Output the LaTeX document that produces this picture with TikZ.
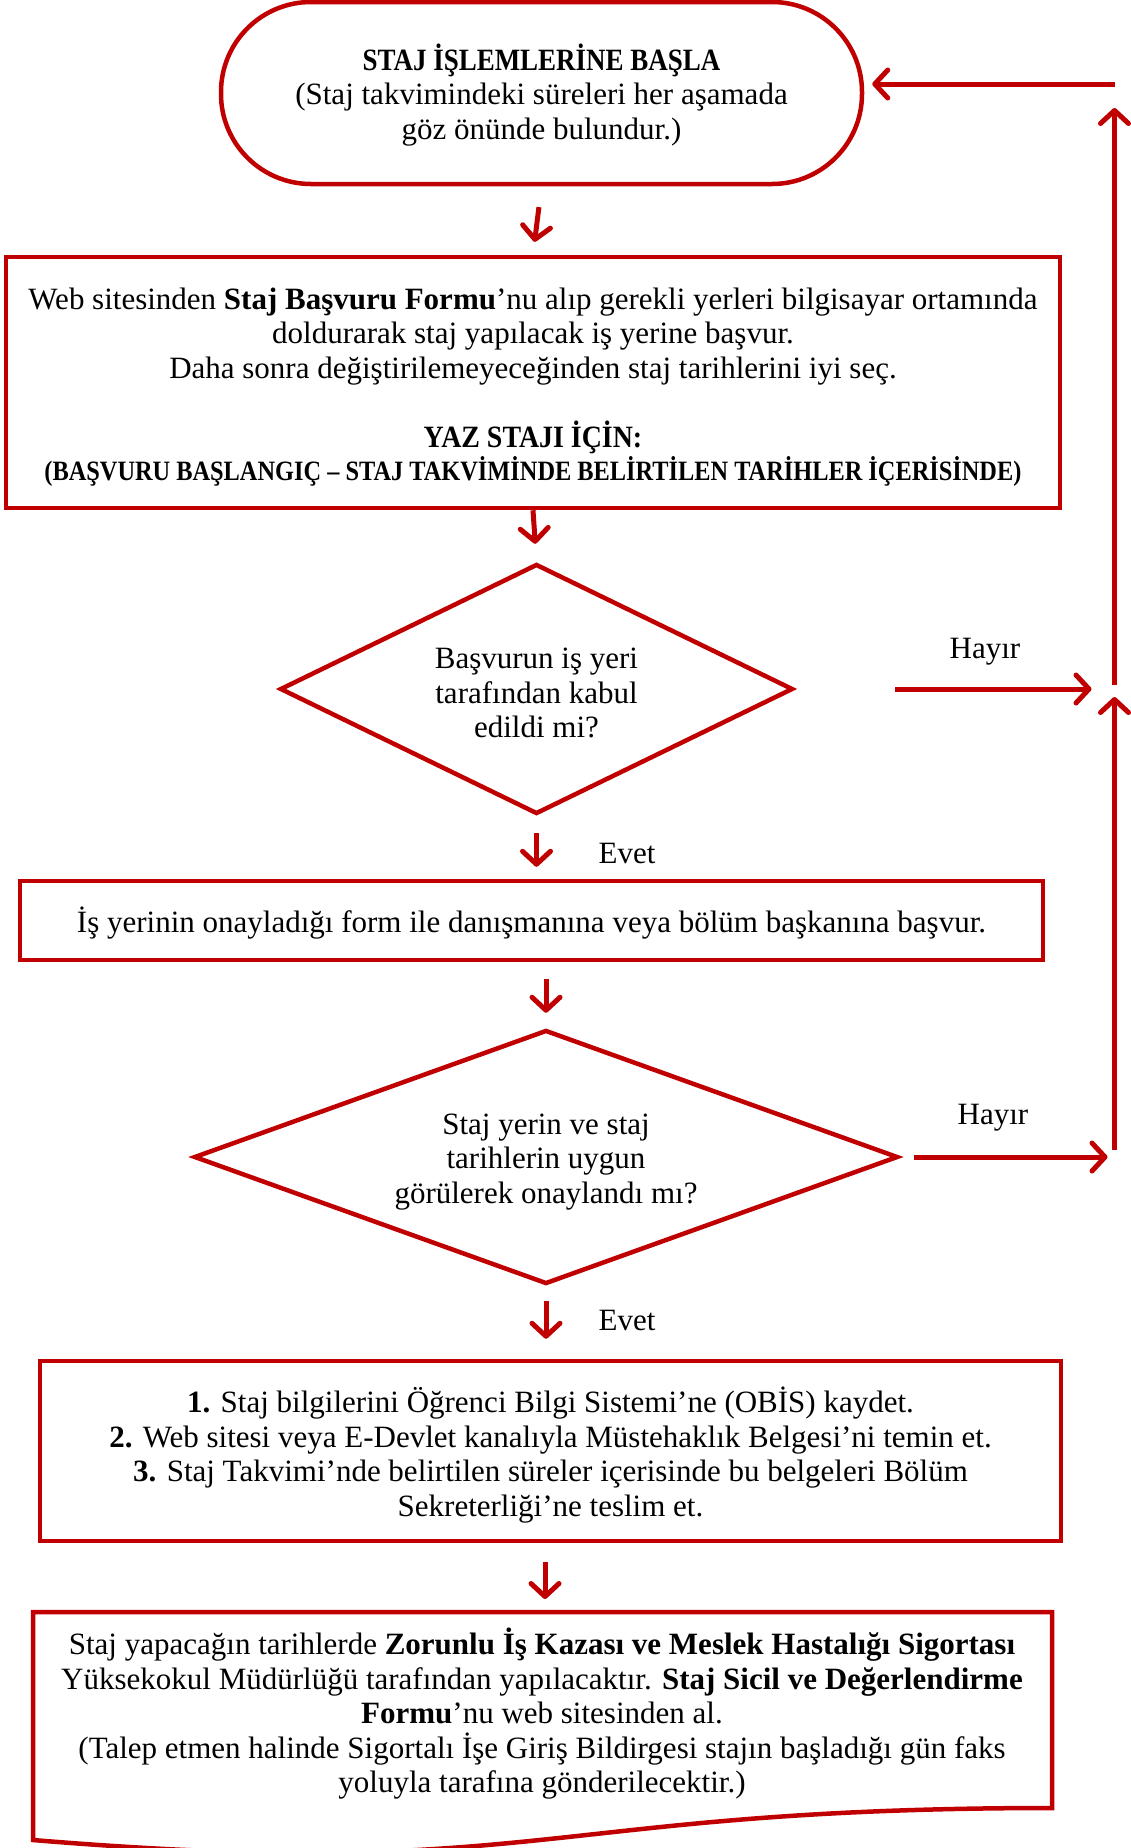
\documentclass[tikz,border=0pt]{standalone}
\usepackage{fontspec}
\usepackage{graphicx}
\setmainfont{Liberation Serif}
\usetikzlibrary{arrows.meta,shapes.geometric,calc}
\definecolor{dred}{HTML}{C00000}
\begin{document}
\begin{tikzpicture}[x=1pt,y=-1pt,
  every node/.style={font=\fontsize{31}{34.5}\selectfont, text=black},
  box/.style={draw=dred, line width=4.5pt, rectangle, inner sep=0pt},
  term/.style={draw=dred, line width=4.5pt, rounded corners=90pt, inner sep=0pt, minimum width=641pt, minimum height=182pt},
  dec/.style={draw=dred, line width=4.5pt, diamond, inner sep=0pt},
  txt/.style={inner sep=0pt, align=center},
  arr/.style={draw=dred, line width=5pt, -{Straight Barb[length=13pt,width=28pt,line cap=round,line join=round]}},
  lbl/.style={inner sep=0pt},
]
\useasboundingbox (0,0) rectangle (1131,1848);

% shapes
\node[term] (start) at (541.5,93) {};
\node[box, minimum width=1054pt, minimum height=251pt] (b1) at (533,382.5) {};
\node[dec, minimum width=513pt, minimum height=250pt] (d1) at (536.5,689) {};
\node[box, minimum width=1023pt, minimum height=79pt] (b2) at (531.5,920.5) {};
\node[dec, minimum width=704pt, minimum height=254pt] (d2) at (546,1157) {};
\node[box, minimum width=1021pt, minimum height=180pt] (b3) at (550.5,1451) {};
\draw[dred, line width=4.5pt, line join=miter] (33,1612) -- (1052,1612) -- (1052,1808) .. controls (542,1808) and (542,1882) .. (33,1840) -- cycle;

% texts
\node[txt] (startt) at (541.5,95) {\scalebox{0.87}[1]{\textbf{STAJ İŞLEMLERİNE BAŞLA}}\\(Staj takvimindeki süreleri her aşamada\\göz önünde bulundur.)};

\node[txt] (b1t) at (533,387) {Web sitesinden \textbf{Staj Başvuru Formu}’nu alıp gerekli yerleri bilgisayar ortamında\\doldurarak staj yapılacak iş yerine başvur.\\Daha sonra değiştirilemeyeceğinden staj tarihlerini iyi seç.\\[34.5pt]\scalebox{0.9}[1]{\textbf{YAZ STAJI İÇİN:}}\\[-1.5pt]{\fontsize{28}{34.5}\selectfont\scalebox{0.87}[1]{\textbf{(BAŞVURU BAŞLANGIÇ – STAJ TAKVİMİNDE BELİRTİLEN TARİHLER İÇERİSİNDE)}}}};

\node[txt] (d1t) at (536.5,693) {Başvurun iş yeri\\tarafından kabul\\edildi mi?};

\node[txt] (b2t) at (531.5,923) {İş yerinin onayladığı form ile danışmanına veya bölüm başkanına başvur.};

\node[txt] (d2t) at (546,1162) {Staj yerin ve staj\\tarihlerin uygun\\görülerek onaylandı mı?};

\node[txt] (b3t) at (550.5,1455) {\textbf{1.} Staj bilgilerini Öğrenci Bilgi Sistemi’ne (OBİS) kaydet.\\\textbf{2.} Web sitesi veya E-Devlet kanalıyla Müstehaklık Belgesi’ni temin et.\\\textbf{3.} Staj Takvimi’nde belirtilen süreler içerisinde bu belgeleri Bölüm\\Sekreterliği’ne teslim et.};

\node[txt] (b4) at (542,1714) {Staj yapacağın tarihlerde \textbf{Zorunlu İş Kazası ve Meslek Hastalığı Sigortası}\\Yüksekokul Müdürlüğü tarafından yapılacaktır. \textbf{Staj Sicil ve Değerlendirme}\\\textbf{Formu}’nu web sitesinden al.\\(Talep etmen halinde Sigortalı İşe Giriş Bildirgesi stajın başladığı gün faks\\yoluyla tarafına gönderilecektir.)};

\node[lbl] (e1) at (627,853) {Evet};
\node[lbl] (e2) at (627,1320) {Evet};
\node[lbl] (h1) at (985,652) {Hayır};
\node[lbl] (h2) at (993,1118) {Hayır};

\coordinate (c1) at (1114.5,84);
\coordinate (c2) at (1114.5,689);
\coordinate (c3) at (1114.5,1157);
\coordinate (b4top) at (545,1612);

\draw[arr, shorten <=21pt, shorten >=13pt] (start.south) -- (b1.north);
\draw[arr, shorten <=0pt, shorten >=18pt] (b1.south) -- (d1.north);
\draw[arr, shorten <=17pt, shorten >=12pt] (d1.south) -- (b2.north -| d1.south);
\draw[arr, shorten <=17pt, shorten >=15pt] (b2.south -| d2.north) -- (d2.north);
\draw[arr, shorten <=15pt, shorten >=20pt] (d2.south) -- (b3.north -| d2.south);
\draw[arr, shorten <=19pt, shorten >=13pt] (b3.south -| b4top) -- (b4top);

\draw[arr, shorten <=100pt, shorten >=23pt] (d1.east) -- (c2);
\draw[arr, shorten <=14pt, shorten >=7pt] (d2.east) -- (c3);
\draw[arr, shorten <=4pt, shorten >=24pt] (c2) -- (c1);
\draw[arr, shorten <=7pt, shorten >=8pt] (c3) -- (c2);
\draw[arr, shorten <=0pt, shorten >=8pt] (c1) -- (c1 -| start.east);
\end{tikzpicture}
\end{document}
